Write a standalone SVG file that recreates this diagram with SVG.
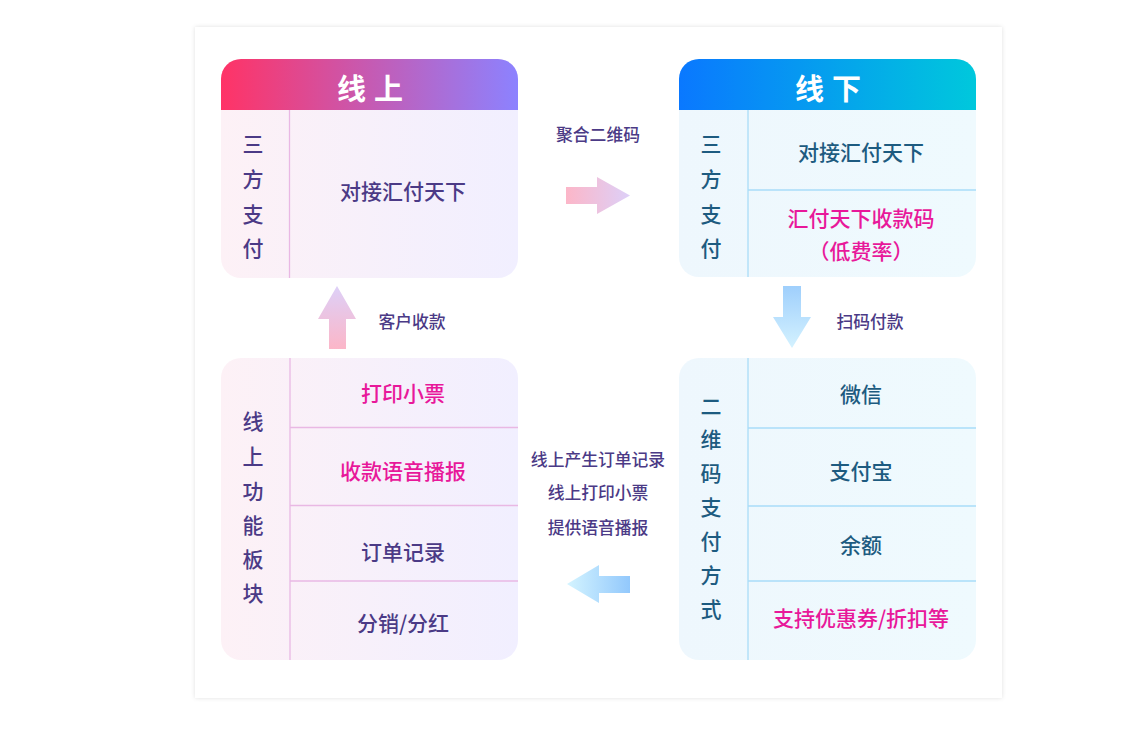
<svg xmlns="http://www.w3.org/2000/svg" width="1143" height="754" viewBox="0 0 1143 754">
<style>
text{font-family:"Noto Sans CJK SC","Noto Sans",sans-serif;text-anchor:middle;dominant-baseline:central}
.hd{font-size:29px;font-weight:700;fill:#fff}
.tl{font-size:21px;font-weight:500;fill:#4b3a86}
.tr{font-size:21px;font-weight:500;fill:#1d5b80}
.pk{font-size:21px;font-weight:500;fill:#e8189a}
.lb{font-size:16.8px;font-weight:500;fill:#4b3a86}
.ldiv{stroke:#e9b8e4;stroke-width:1.3}
.rdiv{stroke:#a9dcf8;stroke-width:1.3}
</style>
<defs>
<linearGradient id="hl" x1="0" x2="1"><stop offset="0" stop-color="#ff3366"/><stop offset="1" stop-color="#8c82ff"/></linearGradient>
<linearGradient id="hr" x1="0" x2="1"><stop offset="0" stop-color="#0a78ff"/><stop offset="1" stop-color="#00c8dc"/></linearGradient>
<linearGradient id="bl" x1="0" x2="1"><stop offset="0" stop-color="#fdf1f6"/><stop offset="1" stop-color="#f1efff"/></linearGradient>
<linearGradient id="br" x1="0" x2="1"><stop offset="0" stop-color="#eef7fd"/><stop offset="1" stop-color="#effafe"/></linearGradient>
<linearGradient id="aR" x1="0" x2="1"><stop offset="0" stop-color="#fcb6c8"/><stop offset="1" stop-color="#ddd0f8"/></linearGradient>
<linearGradient id="aU" x1="0" y1="1" x2="0" y2="0"><stop offset="0" stop-color="#fcb6c8"/><stop offset="1" stop-color="#ddd0f8"/></linearGradient>
<linearGradient id="aD" x1="0" y1="0" x2="0" y2="1"><stop offset="0" stop-color="#9fcffc"/><stop offset="1" stop-color="#d4f2ff"/></linearGradient>
<linearGradient id="aL" x1="0" x2="1"><stop offset="0" stop-color="#d4f4ff"/><stop offset="1" stop-color="#92c8fc"/></linearGradient>
<clipPath id="c1"><rect x="221" y="59" width="297" height="219" rx="20"/></clipPath>
<clipPath id="c2"><rect x="679" y="59" width="297" height="218" rx="20"/></clipPath>
<filter id="sh" x="-5%" y="-5%" width="110%" height="110%"><feDropShadow dx="0" dy="0" stdDeviation="2" flood-color="#000" flood-opacity="0.12"/></filter>
</defs>
<rect width="1143" height="754" fill="#fff"/>
<rect x="195" y="27" width="807" height="671" fill="#fff" filter="url(#sh)"/>

<g id="online">
<g clip-path="url(#c1)">
<rect x="221" y="59" width="297" height="219" fill="url(#bl)"/>
<rect x="221" y="59" width="297" height="51" fill="url(#hl)"/>
</g>
<line class="ldiv" x1="289.5" y1="110" x2="289.5" y2="278"/>
<text class="hd" x="374" y="87" letter-spacing="8">线上</text>
<text class="tl" x="253" y="143">三</text>
<text class="tl" x="253" y="178">方</text>
<text class="tl" x="253" y="213">支</text>
<text class="tl" x="253" y="247">付</text>
<text class="tl" x="403" y="190">对接汇付天下</text>
</g>

<g id="offline">
<g clip-path="url(#c2)">
<rect x="679" y="59" width="297" height="218" fill="url(#br)"/>
<rect x="679" y="59" width="297" height="51" fill="url(#hr)"/>
</g>
<line class="rdiv" x1="748" y1="110" x2="748" y2="277"/>
<line class="rdiv" x1="748" y1="190" x2="976" y2="190"/>
<text class="hd" x="832" y="87" letter-spacing="8">线下</text>
<text class="tr" x="711" y="143">三</text>
<text class="tr" x="711" y="178">方</text>
<text class="tr" x="711" y="213">支</text>
<text class="tr" x="711" y="247">付</text>
<text class="tr" x="861" y="151">对接汇付天下</text>
<text class="pk" x="861" y="217">汇付天下收款码</text>
<text class="pk" x="861" y="250">（低费率）</text>
</g>

<g id="online-features">
<rect x="221" y="358" width="297" height="302" rx="20" fill="url(#bl)"/>
<line class="ldiv" x1="290" y1="358" x2="290" y2="660"/>
<line class="ldiv" x1="290" y1="427.5" x2="518" y2="427.5"/>
<line class="ldiv" x1="290" y1="505.5" x2="518" y2="505.5"/>
<line class="ldiv" x1="290" y1="581" x2="518" y2="581"/>
<text class="tl" x="253" y="420">线</text>
<text class="tl" x="253" y="455">上</text>
<text class="tl" x="253" y="490">功</text>
<text class="tl" x="253" y="524">能</text>
<text class="tl" x="253" y="558">板</text>
<text class="tl" x="253" y="592">块</text>
<text class="pk" x="403" y="392">打印小票</text>
<text class="pk" x="403" y="470">收款语音播报</text>
<text class="tl" x="403" y="551">订单记录</text>
<text class="tl" x="403" y="622">分销/分红</text>
</g>

<g id="qr-methods">
<rect x="679" y="358" width="297" height="302" rx="20" fill="url(#br)"/>
<line class="rdiv" x1="748" y1="358" x2="748" y2="660"/>
<line class="rdiv" x1="748" y1="428" x2="976" y2="428"/>
<line class="rdiv" x1="748" y1="506" x2="976" y2="506"/>
<line class="rdiv" x1="748" y1="581" x2="976" y2="581"/>
<text class="tr" x="711" y="405">二</text>
<text class="tr" x="711" y="438">维</text>
<text class="tr" x="711" y="472">码</text>
<text class="tr" x="711" y="506">支</text>
<text class="tr" x="711" y="540">付</text>
<text class="tr" x="711" y="574">方</text>
<text class="tr" x="711" y="608">式</text>
<text class="tr" x="861" y="393">微信</text>
<text class="tr" x="861" y="470">支付宝</text>
<text class="tr" x="861" y="544">余额</text>
<text class="pk" x="861" y="617">支持优惠券/折扣等</text>
</g>

<g id="connectors">
<polygon points="566,187 597,187 597,177 630,195.5 597,214 597,204 566,204" fill="url(#aR)"/>
<polygon points="329,349 329,319 318,319 337,286 356,319 346,319 346,349" fill="url(#aU)"/>
<polygon points="783,286 801,286 801,317 811,317 792,348 773,317 783,317" fill="url(#aD)"/>
<polygon points="630,576 599,576 599,565 567,584 599,603 599,593 630,593" fill="url(#aL)"/>
<text class="lb" x="598" y="134">聚合二维码</text>
<text class="lb" x="412" y="321">客户收款</text>
<text class="lb" x="870" y="321">扫码付款</text>
<text class="lb" x="598" y="459">线上产生订单记录</text>
<text class="lb" x="598" y="492">线上打印小票</text>
<text class="lb" x="598" y="527">提供语音播报</text>
</g>
</svg>
